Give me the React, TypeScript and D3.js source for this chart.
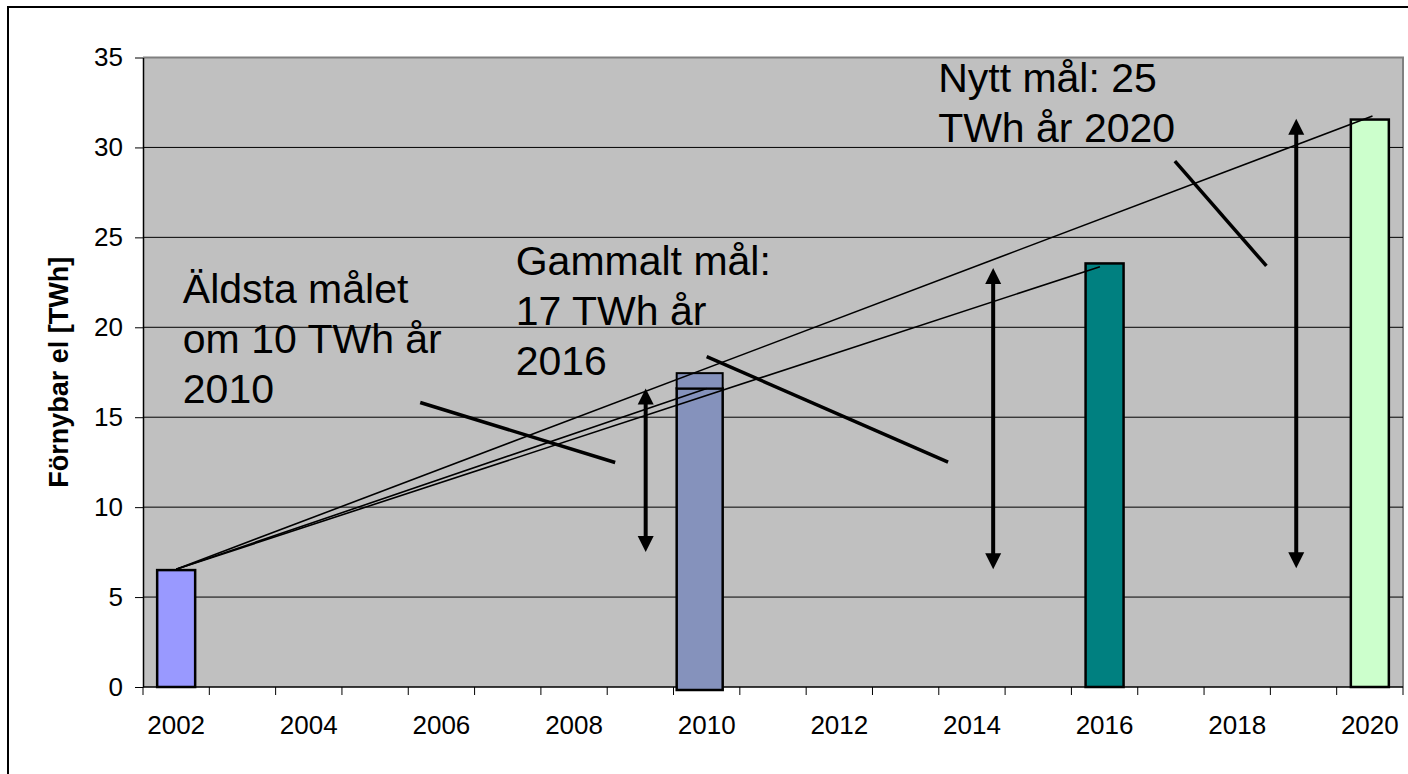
import React, { useEffect, useRef } from 'react';
import * as d3 from 'd3';

// categories on the x axis (every year, labels on every other one)
const years = ['2002', '2003', '2004', '2005', '2006', '2007', '2008', '2009', '2010', '2011',
  '2012', '2013', '2014', '2015', '2016', '2017', '2018', '2019', '2020'];
const yTicks = [0, 5, 10, 15, 20, 25, 30, 35];

// bars
const barYears = ['2002', '2010', '2016', '2020'];
const barValues = [6.5, 16.6, 23.55, 31.55];
const barColors = ['#9999FF', '#8592BC', '#008080', '#CCFFCC'];
const cap2010 = 17.45; // small box on top of the 2010 bar

// straight lines from the 2002 bar up to each target
const trendFrom = [2002.0, 6.55];
const trendTo = [[2020.04, 31.75], [2015.93, 23.37], [2010.0, 16.6]];

// double headed arrows: year, low, high
const arrowYears = [2009.08, 2014.32, 2018.89];
const arrowLow = [7.5, 6.55, 6.6];
const arrowHigh = [16.6, 23.3, 31.6];

// callout texts and their pointer lines (year / value coordinates)
const calloutLines = [
  ['Äldsta målet', 'om 10 TWh år', '2010'],
  ['Gammalt mål:', '17 TWh år', '2016'],
  ['Nytt mål: 25', 'TWh år 2020'],
];
const calloutAt = [[2002.1, 21.35], [2007.12, 22.9], [2013.49, 33.1]];
const pointers = [
  [[2005.68, 15.82], [2008.62, 12.48]],
  [[2010.0, 18.37], [2013.64, 12.5]],
  [[2017.06, 29.24], [2018.44, 23.41]],
];

const W = 1408, H = 774;
const left = 143, right = 1403, top = 57.5, bottom = 687;
const font = 'Arial, "Liberation Sans", sans-serif';

const Chart = () => {
  const ref = useRef<SVGSVGElement | null>(null);

  useEffect(() => {
    const svg = d3.select(ref.current);
    svg.selectAll('*').remove();

    const x = d3.scaleBand().domain(years).range([left, right]).paddingInner(0.427).paddingOuter(0.2135);
    const xYear = d3.scaleLinear().domain([2001.5, 2020.5]).range([left, right]);
    const y = d3.scaleLinear().domain([0, 35]).range([bottom, top]);
    const step = x.step();

    // outer chart frame
    svg.append('rect')
      .attr('x', 8).attr('y', 7).attr('width', 1430).attr('height', 820)
      .attr('fill', '#fff').attr('stroke', '#000').attr('stroke-width', 2);

    // plot area
    svg.append('rect')
      .attr('x', left).attr('y', top).attr('width', right - left).attr('height', bottom - top)
      .attr('fill', '#C0C0C0');
    svg.append('path')
      .attr('d', `M${left},${top}H${right}V${bottom}`)
      .attr('fill', 'none').attr('stroke', '#808080').attr('stroke-width', 2);

    // gridlines
    svg.append('g').selectAll('line')
      .data(yTicks.filter(d => d > 0 && d < 35))
      .join('line')
      .attr('x1', left).attr('x2', right)
      .attr('y1', d => y(d)).attr('y2', d => y(d))
      .attr('stroke', '#000').attr('stroke-width', 1);

    // y axis
    const yAxis = svg.append('g')
      .attr('transform', `translate(${left},0)`)
      .call(d3.axisLeft(y).tickValues(yTicks).tickSize(8).tickPadding(12).tickSizeOuter(0));
    yAxis.select('.domain').attr('stroke', '#000').attr('stroke-width', 1.5);
    yAxis.selectAll('text').attr('font-family', font).attr('font-size', 26).attr('fill', '#000');

    // x axis: ticks between the categories
    const bounds = years.map(d => (x(d) as number) - (step - x.bandwidth()) / 2).concat([right]);
    svg.append('line')
      .attr('x1', left).attr('x2', right).attr('y1', bottom).attr('y2', bottom)
      .attr('stroke', '#000').attr('stroke-width', 1.5);
    svg.append('g').selectAll('line')
      .data(bounds)
      .join('line')
      .attr('x1', d => d).attr('x2', d => d)
      .attr('y1', bottom).attr('y2', bottom + 8)
      .attr('stroke', '#000').attr('stroke-width', 1);
    svg.append('g').selectAll('text')
      .data(years.filter((d, i) => i % 2 === 0))
      .join('text')
      .attr('x', d => (x(d) as number) + x.bandwidth() / 2)
      .attr('y', 734)
      .attr('text-anchor', 'middle')
      .attr('font-family', font).attr('font-size', 26)
      .text(d => d);

    // y axis title
    svg.append('text')
      .attr('transform', `translate(68,${(top + bottom) / 2}) rotate(-90)`)
      .attr('text-anchor', 'middle')
      .attr('font-family', font).attr('font-size', 27).attr('font-weight', 'bold')
      .text('Förnybar el [TWh]');

    // bars
    const bars = barYears.map((d, i) => ({ year: d, value: barValues[i], color: barColors[i] }));
    const bx = (d: { year: string }) => d.year === '2010'
      ? (x(d.year) as number) - 11 : (x(d.year) as number);
    const bw = (d: { year: string }) => d.year === '2010' ? x.bandwidth() + 8 : x.bandwidth();
    svg.append('g').selectAll('rect')
      .data(bars)
      .join('rect')
      .attr('x', d => bx(d))
      .attr('y', d => y(d.value))
      .attr('width', d => bw(d))
      .attr('height', d => y(0) - y(d.value) + (d.year === '2010' ? 3 : 0))
      .attr('fill', d => d.color)
      .attr('stroke', '#000').attr('stroke-width', 2.5);
    const b2010 = bars[1];
    svg.append('rect')
      .attr('x', bx(b2010)).attr('y', y(cap2010))
      .attr('width', bw(b2010)).attr('height', y(b2010.value) - y(cap2010))
      .attr('fill', b2010.color).attr('stroke', '#000').attr('stroke-width', 2);

    // lines from 2002
    svg.append('g').selectAll('line')
      .data(trendTo)
      .join('line')
      .attr('x1', xYear(trendFrom[0])).attr('y1', y(trendFrom[1]))
      .attr('x2', d => xYear(d[0])).attr('y2', d => y(d[1]))
      .attr('stroke', '#000').attr('stroke-width', 1.6);

    // double arrows, heads drawn as triangles
    const head = 16, half = 8;
    const arrows = svg.append('g');
    arrows.selectAll('line')
      .data(arrowYears)
      .join('line')
      .attr('x1', d => xYear(d)).attr('x2', d => xYear(d))
      .attr('y1', (d, i) => y(arrowLow[i]) - head + 2).attr('y2', (d, i) => y(arrowHigh[i]) + head - 2)
      .attr('stroke', '#000').attr('stroke-width', 4);
    arrows.selectAll('path.up')
      .data(arrowYears)
      .join('path')
      .attr('class', 'up')
      .attr('d', (d, i) => {
        const cx = xYear(d), ty = y(arrowHigh[i]);
        return `M${cx},${ty}L${cx + half},${ty + head}L${cx - half},${ty + head}Z`;
      })
      .attr('fill', '#000');
    arrows.selectAll('path.down')
      .data(arrowYears)
      .join('path')
      .attr('class', 'down')
      .attr('d', (d, i) => {
        const cx = xYear(d), ty = y(arrowLow[i]);
        return `M${cx},${ty}L${cx + half},${ty - head}L${cx - half},${ty - head}Z`;
      })
      .attr('fill', '#000');

    // callout pointer lines
    svg.append('g').selectAll('line')
      .data(pointers)
      .join('line')
      .attr('x1', d => xYear(d[0][0])).attr('y1', d => y(d[0][1]))
      .attr('x2', d => xYear(d[1][0])).attr('y2', d => y(d[1][1]))
      .attr('stroke', '#000').attr('stroke-width', 3.5);

    // callout texts
    calloutLines.forEach((lines, i) => {
      const t = svg.append('text')
        .attr('x', xYear(calloutAt[i][0]))
        .attr('y', y(calloutAt[i][1]))
        .attr('font-family', font).attr('font-size', 41).attr('fill', '#000');
      lines.forEach((l, j) => {
        t.append('tspan').attr('x', xYear(calloutAt[i][0])).attr('dy', j === 0 ? 0 : 50).text(l);
      });
    });
  }, []);

  return <svg ref={ref} width={W} height={H} style={{ display: 'block' }} />;
};

export default function App() {
  return (
    <div style={{ position: 'fixed', left: 0, top: 0, width: W, height: H, background: '#fff', overflow: 'hidden' }}>
      <Chart />
    </div>
  );
}
